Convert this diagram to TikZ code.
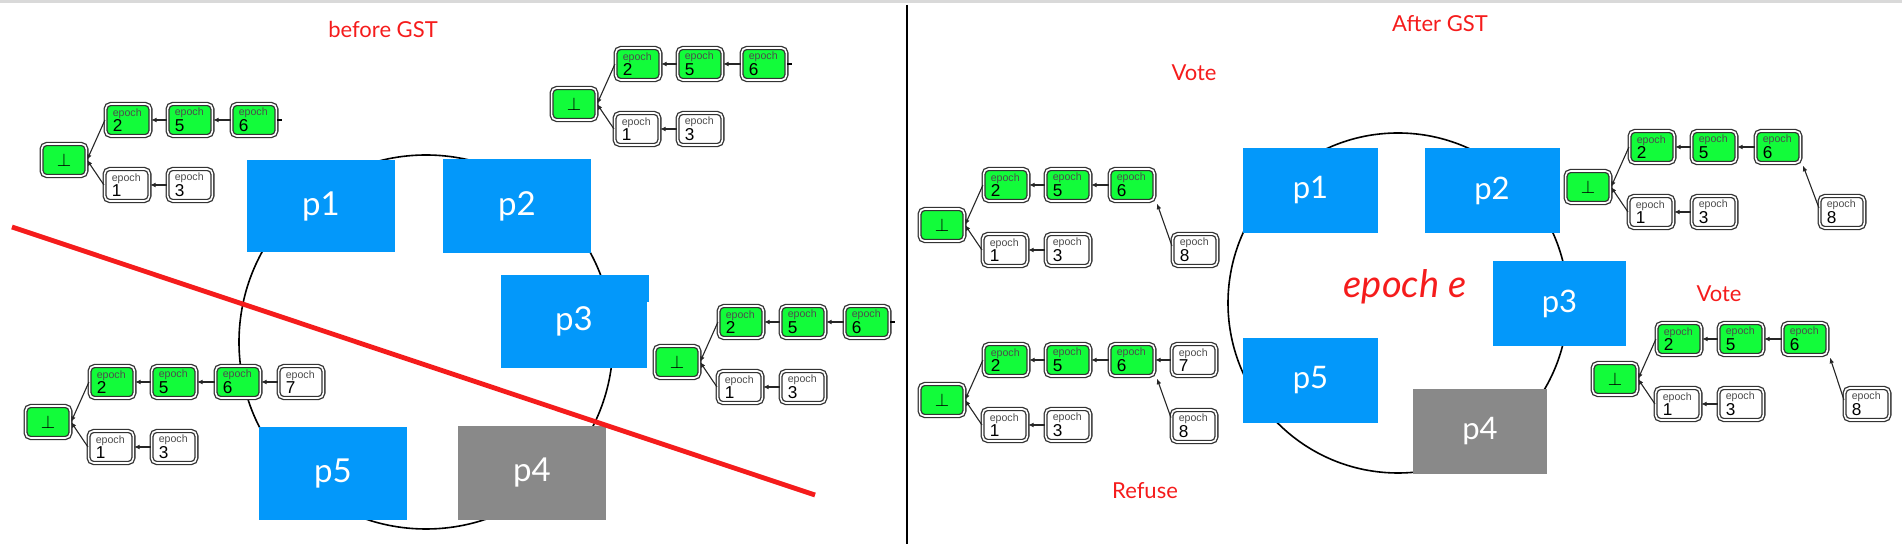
\documentclass[tikz,border=0pt]{standalone}
\usepackage{fontspec}
\setmainfont{Liberation Sans}
\newfontfamily\avfont{Lato}
\usetikzlibrary{arrows.meta}

\definecolor{blockgreen}{RGB}{18,252,58}
\definecolor{procblue}{RGB}{3,152,250}
\definecolor{procgray}{RGB}{137,137,137}
\definecolor{gstred}{RGB}{245,28,28}

\tikzset{
  blk/.style={draw=black!80, double=white, double distance=0.8pt, line width=0.65pt,
    rounded corners=2.5pt, fill=white, minimum width=22.4pt, minimum height=16pt,
    inner xsep=3.6pt, inner ysep=0pt, text width=15.2pt, align=left,
    font=\fontsize{5.3}{7.8}\selectfont},
  gblk/.style={blk, fill=blockgreen},
  rootblk/.style={blk, fill=blockgreen, align=center, font=\fontsize{9}{9}\selectfont},
  link/.style={-{Latex[length=2.8pt,width=2.4pt]}, line width=0.55pt, black!85},
  proc/.style={fill=procblue, text=white, inner sep=0pt, font=\avfont\fontsize{16.5}{16.5}\selectfont},
  rproc/.style={proc, minimum width=67.5pt, minimum height=42.5pt, font=\avfont\fontsize{15.5}{15.5}\selectfont},
  note/.style={text=gstred, font=\avfont\fontsize{11}{11}\selectfont},
}

% one block: small "epoch" above its number
\newcommand{\ep}[1]{{\color{black!70}epoch}\\{\fontsize{8.6}{7.8}\selectfont #1}}

% root with the two branches 2-5-6 and 1-3
\newcommand{\basechain}[3]{%
  \node[rootblk] (#1bot) at (#2,#3) {$\bot$};
  \node[gblk] (#1e2) at ({#2+64},{#3-40}) {\ep{2}};
  \node[gblk] (#1e5) at ({#2+126},{#3-40}) {\ep{5}};
  \node[gblk] (#1e6) at ({#2+190},{#3-40}) {\ep{6}};
  \node[blk] (#1e1) at ({#2+63},{#3+25}) {\ep{1}};
  \node[blk] (#1e3) at ({#2+126},{#3+25}) {\ep{3}};
  \draw[link] (#1e2.west) -- (#1bot.east);
  \draw[link] (#1e1.west) -- (#1bot.east);
  \draw[link] (#1e5) -- (#1e2);
  \draw[link] (#1e6) -- (#1e5);
  \draw[link] (#1e3) -- (#1e1);
}

\begin{document}
\begin{tikzpicture}[x=0.5pt, y=-0.5pt]
	\useasboundingbox (0,0) rectangle (1902,544);
	\draw[black!15, line width=1.5pt] (0,2) -- (1902,2);
	\draw[line width=1.1pt] (907,5) -- (907,544);

	% before GST
	\draw[line width=0.8pt] (426,342) circle[radius=187];
	\node[proc, minimum width=74pt, minimum height=46pt] (lp1) at (321,206) {p1};
	\node[proc, minimum width=74pt, minimum height=47pt] (lp2) at (517,206) {p2};
	\fill[procblue] (501,275) rectangle (649,302);
	\node[proc, minimum width=73pt, minimum height=46.5pt] (lp3) at (574,321.5) {p3};
	\node[proc, fill=procgray, minimum width=74pt, minimum height=47pt] (lp4) at (532,473) {p4};
	\node[proc, minimum width=74pt, minimum height=46.5pt] (lp5) at (333,473.5) {p5};

	\basechain{L1}{64}{160}
	\draw[line width=0.55pt] (L1e6.east) -- ++(5,0);
	\basechain{L2}{574}{104}
	\draw[line width=0.55pt] (L2e6.east) -- ++(5,0);
	\basechain{L3}{677}{362}
	\draw[line width=0.55pt] (L3e6.east) -- ++(5,0);
	\basechain{L4}{48}{422}
	\node[blk] (L4e7) at (301,382) {\ep{7}};
	\draw[link] (L4e7) -- (L4e6);

	\draw[gstred, line width=2.4pt] (12,227) -- (815,495);
	\node[note] (before) at (383,29) {before GST};

	% after GST
	\draw[line width=0.8pt] (1398,303) circle[radius=170];
	\node[rproc] (rp1) at (1310.5,190.5) {p1};
	\node[rproc] (rp2) at (1492,190.5) {p2};
	\node[rproc, minimum width=66.5pt] (rp3) at (1559.5,303.5) {p3};
	\node[rproc, fill=procgray, minimum width=67pt] (rp4) at (1480,431.5) {p4};
	\node[rproc] (rp5) at (1310.5,380.5) {p5};
	\node[text=gstred, font=\avfont\itshape\fontsize{19}{19}\selectfont] (epe) at (1405,287) {epoch e};

	\basechain{R1}{942}{225}
	\node[blk] (R1e8) at (1195,250) {\ep{8}};
	\draw[link] (R1e8.170) -- ([shift={(2,2)}]R1e6.south east);
	\basechain{R2}{942}{400}
	\node[blk] (R2e7) at (1194,360) {\ep{7}};
	\node[blk] (R2e8) at (1194,426) {\ep{8}};
	\draw[link] (R2e7) -- (R2e6);
	\draw[link] (R2e8.160) -- ([shift={(2,2)}]R2e6.south east);
	\basechain{R3}{1588}{187}
	\node[blk] (R3e8) at (1842,212) {\ep{8}};
	\draw[link] (R3e8.170) -- ([shift={(2,2)}]R3e6.south east);
	\basechain{R4}{1615}{379}
	\node[blk] (R4e8) at (1867,404) {\ep{8}};
	\draw[link] (R4e8.170) -- ([shift={(2,2)}]R4e6.south east);

	\node[note] (after) at (1440,24) {After GST};
	\node[note] (vote1) at (1194,73) {Vote};
	\node[note] (vote2) at (1719,294) {Vote};
	\node[note] (refuse) at (1145,491) {Refuse};
\end{tikzpicture}
\end{document}
